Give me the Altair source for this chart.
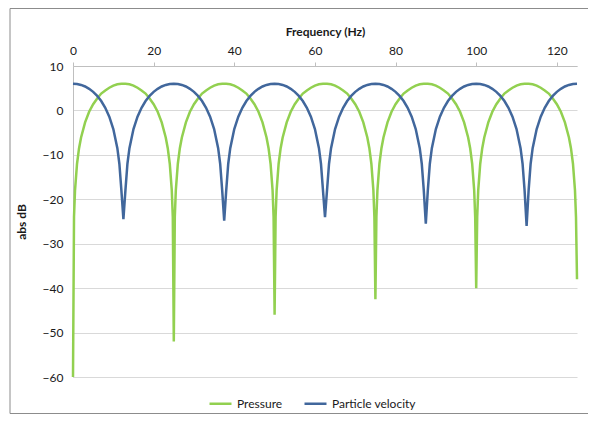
import altair as alt
import pandas as pd

# ---- data ----
pressure_hz = [
    0, 0.25, 0.5, 1, 1.5, 2, 3, 4, 5, 6, 7, 8, 9, 10, 11, 12, 13, 14, 15, 16, 17, 18, 19, 20, 21, 22, 23, 23.5, 24, 24.5, 24.75,
    25, 25.25, 25.5, 26, 26.5, 27, 28, 29, 30, 31, 32, 33, 34, 35, 36, 37, 38, 39, 40, 41, 42, 43, 44, 45, 46, 47, 48, 48.5, 49, 49.5, 49.75,
    50, 50.25, 50.5, 51, 51.5, 52, 53, 54, 55, 56, 57, 58, 59, 60, 61, 62, 63, 64, 65, 66, 67, 68, 69, 70, 71, 72, 73, 73.5, 74, 74.5, 74.75,
    75, 75.25, 75.5, 76, 76.5, 77, 78, 79, 80, 81, 82, 83, 84, 85, 86, 87, 88, 89, 90, 91, 92, 93, 94, 95, 96, 97, 98, 98.5, 99, 99.5, 99.75,
    100, 100.25, 100.5, 101, 101.5, 102, 103, 104, 105, 106, 107, 108, 109, 110, 111, 112, 113, 114, 115, 116, 117, 118, 119, 120, 121, 122, 123, 123.5, 124, 124.5, 124.75,
    125,
]
pressure_db = [
    -60.0, -24.0, -18.0, -12.0, -8.5, -6.1, -2.7, -0.3, 1.4, 2.7, 3.8, 4.5, 5.1, 5.6, 5.9, 6.0, 6.0, 5.9, 5.6, 5.1, 4.5, 3.8, 2.7, 1.4, -0.3, -2.7, -6.1, -8.5, -12.0, -18.0, -24.0,
    -52.0, -24.0, -18.0, -12.0, -8.5, -6.1, -2.7, -0.3, 1.4, 2.7, 3.8, 4.5, 5.1, 5.6, 5.9, 6.0, 6.0, 5.9, 5.6, 5.1, 4.5, 3.8, 2.7, 1.4, -0.3, -2.7, -6.1, -8.5, -12.0, -18.0, -24.0,
    -46.0, -24.0, -18.0, -12.0, -8.5, -6.1, -2.7, -0.3, 1.4, 2.7, 3.8, 4.5, 5.1, 5.6, 5.9, 6.0, 6.0, 5.9, 5.6, 5.1, 4.5, 3.8, 2.7, 1.4, -0.3, -2.7, -6.1, -8.5, -12.0, -18.0, -24.0,
    -42.5, -24.0, -18.0, -12.0, -8.5, -6.1, -2.7, -0.3, 1.4, 2.7, 3.8, 4.5, 5.1, 5.6, 5.9, 6.0, 6.0, 5.9, 5.6, 5.1, 4.5, 3.8, 2.7, 1.4, -0.3, -2.7, -6.1, -8.5, -12.0, -18.0, -24.0,
    -40.0, -24.0, -18.0, -12.0, -8.5, -6.1, -2.7, -0.3, 1.4, 2.7, 3.8, 4.5, 5.1, 5.6, 5.9, 6.0, 6.0, 5.9, 5.6, 5.1, 4.5, 3.8, 2.7, 1.4, -0.3, -2.7, -6.1, -8.5, -12.0, -18.0, -24.0,
    -38.0,
]

velocity_hz = [
    0, 1, 2, 3, 4, 5, 6, 7, 8, 9, 10, 11, 11.5, 12, 12.5, 13, 13.5, 14, 15, 16, 17, 18, 19, 20, 21, 22, 23, 24,
    25, 26, 27, 28, 29, 30, 31, 32, 33, 34, 35, 36, 36.5, 37, 37.5, 38, 38.5, 39, 40, 41, 42, 43, 44, 45, 46, 47, 48, 49,
    50, 51, 52, 53, 54, 55, 56, 57, 58, 59, 60, 61, 61.5, 62, 62.5, 63, 63.5, 64, 65, 66, 67, 68, 69, 70, 71, 72, 73, 74,
    75, 76, 77, 78, 79, 80, 81, 82, 83, 84, 85, 86, 86.5, 87, 87.5, 88, 88.5, 89, 90, 91, 92, 93, 94, 95, 96, 97, 98, 99,
    100, 101, 102, 103, 104, 105, 106, 107, 108, 109, 110, 111, 111.5, 112, 112.5, 113, 113.5, 114, 115, 116, 117, 118, 119, 120, 121, 122, 123, 124,
    125,
]
velocity_db = [
    6.0, 5.95, 5.74, 5.39, 4.87, 4.18, 3.27, 2.11, 0.6, -1.4, -4.18, -8.5, -12.0, -18.0, -24.5, -18.0, -12.0, -8.5, -4.18, -1.4, 0.6, 2.11, 3.27, 4.18, 4.87, 5.39, 5.74, 5.95,
    6.0, 5.95, 5.74, 5.39, 4.87, 4.18, 3.27, 2.11, 0.6, -1.4, -4.18, -8.5, -12.0, -18.0, -24.8, -18.0, -12.0, -8.5, -4.18, -1.4, 0.6, 2.11, 3.27, 4.18, 4.87, 5.39, 5.74, 5.95,
    6.0, 5.95, 5.74, 5.39, 4.87, 4.18, 3.27, 2.11, 0.6, -1.4, -4.18, -8.5, -12.0, -18.0, -24.0, -18.0, -12.0, -8.5, -4.18, -1.4, 0.6, 2.11, 3.27, 4.18, 4.87, 5.39, 5.74, 5.95,
    6.0, 5.95, 5.74, 5.39, 4.87, 4.18, 3.27, 2.11, 0.6, -1.4, -4.18, -8.5, -12.0, -18.0, -25.5, -18.0, -12.0, -8.5, -4.18, -1.4, 0.6, 2.11, 3.27, 4.18, 4.87, 5.39, 5.74, 5.95,
    6.0, 5.95, 5.74, 5.39, 4.87, 4.18, 3.27, 2.11, 0.6, -1.4, -4.18, -8.5, -12.0, -18.0, -26.0, -18.0, -12.0, -8.5, -4.18, -1.4, 0.6, 2.11, 3.27, 4.18, 4.87, 5.39, 5.74, 5.95,
    6.0,
]

series_names = ["Pressure", "Particle velocity"]
series_colors = ["#92D050", "#41679C"]
x_ticks = [0, 20, 40, 60, 80, 100, 120]
y_ticks = [-60, -50, -40, -30, -20, -10, 0, 10]

rows = []
for i, (f, v) in enumerate(zip(pressure_hz, pressure_db)):
    rows.append({"freq": f, "db": v, "series": series_names[0], "order": i})
for i, (f, v) in enumerate(zip(velocity_hz, velocity_db)):
    rows.append({"freq": f, "db": v, "series": series_names[1], "order": i})
df = pd.DataFrame(rows)

FONT = "Lato"
TEXT = "#1a1a1a"

lines = alt.Chart(df).mark_line(strokeWidth=2.5).encode(
    x=alt.X(
        "freq:Q",
        scale=alt.Scale(domain=[0, 125], nice=False, zero=False),
        axis=alt.Axis(
            orient="top", values=x_ticks, grid=False, tickSize=4,
            tickColor="#bfbfbf", domainColor="#bfbfbf", labelFlush=False,
            labelFont=FONT, labelFontSize=12, labelColor=TEXT, labelPadding=5,
            title="Frequency (Hz)", titleFont=FONT, titleFontSize=12,
            titleFontWeight="bold", titleColor=TEXT, titlePadding=6,
        ),
    ),
    y=alt.Y(
        "db:Q",
        scale=alt.Scale(domain=[-60, 10], nice=False, zero=False),
        axis=alt.Axis(
            values=y_ticks, grid=True, gridColor="#d9d9d9", ticks=False,
            domainColor="#bfbfbf", labelFlush=False,
            labelFont=FONT, labelFontSize=12, labelColor=TEXT, labelPadding=10,
            title="abs dB", titleFont=FONT, titleFontSize=12,
            titleFontWeight="bold", titleColor=TEXT, titlePadding=14,
        ),
    ),
    color=alt.Color(
        "series:N",
        scale=alt.Scale(domain=series_names, range=series_colors),
        legend=alt.Legend(
            title=None, orient="none", legendX=135, legendY=325,
            direction="horizontal", symbolType="stroke", symbolSize=484,
            symbolStrokeWidth=2.5, labelFont=FONT, labelFontSize=12,
            labelColor=TEXT, columnPadding=16, labelOffset=4,
        ),
    ),
    order="order:Q",
    detail="series:N",
)

border = alt.Chart(alt.Data(values=[{}])).mark_rect(
    fill="transparent", stroke="#8c8c8c", strokeWidth=1
).encode(
    x=alt.value(-63), x2=alt.value(540), y=alt.value(-57.5), y2=alt.value(347.5)
)

chart = alt.layer(border, lines).properties(
    width=504, height=311,
    padding={"left": 65, "top": 58, "right": 11, "bottom": 37},
    autosize=alt.AutoSizeParams(type="none"),
).configure_view(stroke="transparent")

chart.save("out.html", embed_options={"renderer": "svg", "actions": False})
